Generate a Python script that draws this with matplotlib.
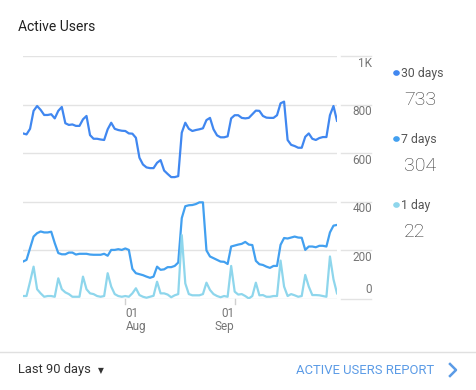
import matplotlib
matplotlib.use("Agg")
import matplotlib.pyplot as plt
import matplotlib.transforms as mtrans

plt.rcParams['font.family'] = ['Roboto', 'DejaVu Sans']

# daily active users, 90 days starting 03 Jul
users_30 = [681, 677, 700, 774, 794, 778, 757, 757, 760, 743,
            774, 790, 723, 716, 718, 712, 712, 739, 753, 674,
            659, 659, 656, 654, 698, 725, 700, 695, 692, 691,
            681, 680, 663, 581, 553, 541, 538, 538, 560, 571,
            528, 514, 501, 501, 505, 684, 725, 700, 691, 695,
            698, 702, 736, 745, 698, 673, 665, 665, 669, 743,
            756, 756, 745, 743, 745, 760, 775, 774, 753, 746,
            745, 745, 756, 805, 812, 654, 634, 629, 622, 622,
            667, 681, 659, 654, 662, 666, 666, 756, 794, 733]
users_7 = [153, 160, 208, 256, 270, 277, 273, 273, 276, 229,
           188, 183, 183, 190, 190, 182, 185, 185, 185, 182,
           181, 181, 181, 185, 177, 201, 201, 204, 201, 207,
           201, 123, 105, 101, 97, 91, 86, 91, 132, 119,
           121, 130, 130, 135, 149, 332, 381, 385, 386, 390,
           397, 397, 199, 174, 167, 160, 153, 152, 143, 215,
           219, 223, 226, 234, 223, 221, 156, 142, 139, 132,
           127, 135, 135, 222, 250, 248, 252, 256, 252, 251,
           201, 215, 215, 212, 218, 218, 215, 273, 301, 304]
users_1 = [11, 11, 70, 132, 39, 22, 8, 11, 11, 8,
           84, 39, 26, 19, 8, 8, 8, 91, 39, 22,
           19, 11, 8, 11, 105, 50, 19, 11, 8, 11,
           8, 22, 43, 15, 8, 4, 8, 12, 70, 22,
           22, 17, 6, 14, 19, 262, 63, 19, 14, 14,
           14, 19, 66, 36, 19, 11, 6, 11, 8, 135,
           29, 17, 19, 11, 1, 11, 66, 14, 15, 8,
           8, 11, 11, 157, 50, 11, 19, 14, 8, 11,
           98, 50, 15, 15, 14, 11, 8, 174, 80, 22]
days = list(range(len(users_30)))

series_names = ['30 days', '7 days', '1 day']
series_totals = ['733', '304', '22']
series_colors = ['#4087f0', '#42a0f0', '#8ed6ec']

y_ticks = [0, 200, 400, 600, 800, 1000]
y_labels = ['0', '200', '400', '600', '800', '1K']
x_ticks = [29, 60]
x_labels = ['01\nAug', '01\nSep']

W, H = 476, 390
fig = plt.figure(figsize=(W / 100, H / 100), dpi=100)

def fx(px):
    return px / W

def fy(py):
    return 1 - py / H

ax = fig.add_axes([fx(23), fy(298.7), fx(337) - fx(23), fy(56) - fy(298.7)])
for vals, c in zip([users_30, users_7, users_1], series_colors):
    ax.plot(days, vals, color=c, lw=1.6, solid_joinstyle='round')
ax.set_xlim(0, 89)
ax.set_ylim(0, 1000)
ax.set_yticks(y_ticks)
ax.set_yticklabels([])
ax.set_xticks([])
ax.tick_params(left=False, length=0)
ax.grid(axis='y', color='#e3e3e3', lw=1)
for s in ax.spines.values():
    s.set_visible(False)

# short segments under the right-hand labels
tr = mtrans.blended_transform_factory(ax.transAxes, ax.transData)
for v, lab in zip(y_ticks, y_labels):
    ax.plot([1.013, 1.108], [v, v], transform=tr, color='#e3e3e3', lw=1, clip_on=False)
    off = 36 if v == 0 else -29
    ax.text(1.111, v + off, lab, transform=tr, ha='right', va='center',
            fontsize=8.5, color='#757575')

# x ticks: Aug label starts at tick, Sep label ends at tick
for d, lab, ha in zip(x_ticks, x_labels, ['left', 'right']):
    ax.plot([d, d], [0, -20], color='#d0d0d0', lw=1, clip_on=False)
    ax.text(d + (0.15 if ha == 'left' else -0.15), -35, lab, ha=ha, va='top',
            fontsize=8.5, color='#757575', linespacing=0.95)

fig.text(fx(18), fy(27), 'Active Users', fontsize=10, color='#212121', va='center')

legend_y = [73, 139, 205]
total_y = [100, 166, 232]
for name, tot, c, ly, vy in zip(series_names, series_totals, series_colors, legend_y, total_y):
    fig.patches.append(plt.Circle((fx(396.5), fy(ly)), 2.6 / W, color=c,
                                  transform=fig.transFigure, figure=fig))
    fig.text(fx(401), fy(ly), name, fontsize=8.8, color='#555555', va='center')
    fig.text(fx(404), fy(vy), tot, fontsize=14, color='#333333', va='center',
             fontweight='light')

fig.add_artist(plt.Line2D([0, 1], [fy(351.5), fy(351.5)], color='#e0e0e0', lw=1))
fig.text(fx(18), fy(370), 'Last 90 days', fontsize=9.3, color='#333333', va='center')
fig.text(fx(98), fy(370.5), '\u25BC', fontsize=5.5, color='#333333', va='center',
         family=['DejaVu Sans'])
fig.text(fx(296), fy(370), 'ACTIVE USERS REPORT', fontsize=9.4, color='#5b9be6', va='center')
fig.add_artist(plt.Line2D([fx(450), fx(456), fx(450)], [fy(364), fy(370), fy(376)],
                          color='#5b9be6', lw=1.8))

fig.savefig('out.png', dpi=100)
